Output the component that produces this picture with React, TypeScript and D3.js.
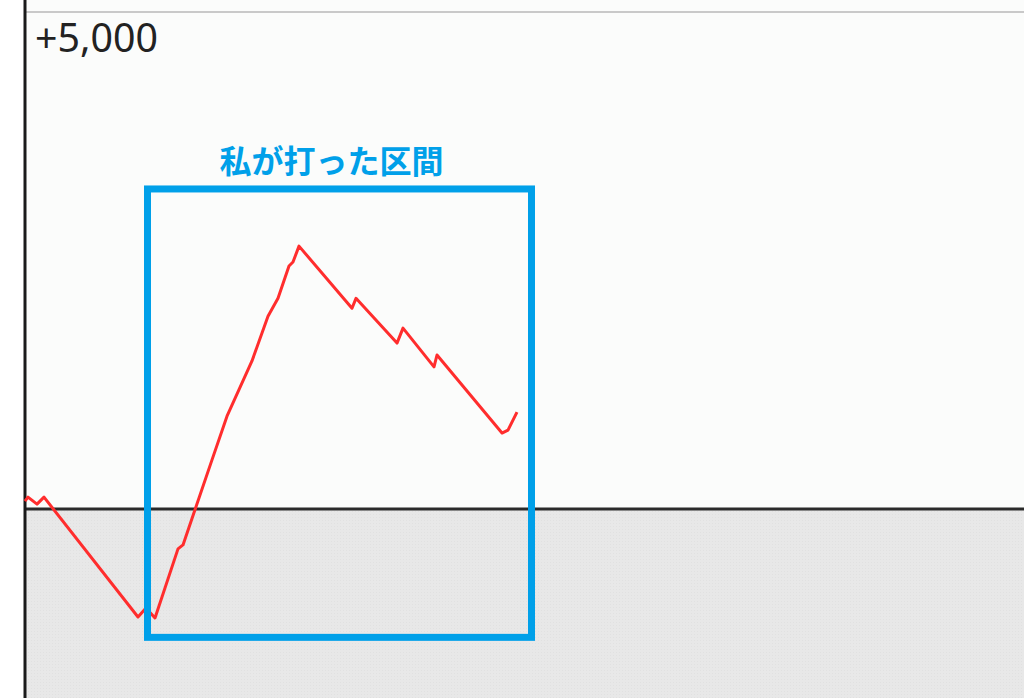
import React from 'react'
import * as d3 from 'd3'

// game count (x) and coin difference (y)
const games = [0, 12, 48, 76, 452, 484, 520, 612, 632, 748, 808, 908, 972, 1012, 1056, 1072, 1096, 1308, 1324, 1488, 1512, 1636, 1648, 1908, 1932, 1968]
const diffs = [80, 120, 50, 120, -1085, -995, -1095, -400, -360, 495, 935, 1490, 1940, 2120, 2445, 2485, 2645, 2020, 2120, 1670, 1820, 1430, 1550, 765, 795, 975]
const topTick = 5000
const topTickLabel = '+5,000'
const sectionLabel = '私が打った区間'
const sectionStart = 490
const sectionEnd = 2026
const sectionTop = 3220
const sectionBottom = -1290

const W = 1024
const H = 698

export default function App() {
  const x = d3.scaleLinear().domain([0, 4000]).range([25, 1025])
  const y = d3.scaleLinear().domain([topTick, -1900]).range([12, 698])

  const pts = games.map((g, i) => [x(g), y(diffs[i])] as [number, number])
  const line = d3.line().curve(d3.curveLinear)(pts) || ''

  const y0 = y(0)
  const bx0 = x(sectionStart)
  const bx1 = x(sectionEnd)
  const by0 = y(sectionTop)
  const by1 = y(sectionBottom)

  return (
    <svg
      width={W}
      height={H}
      style={{ position: 'fixed', left: 0, top: 0, background: '#ffffff' }}
    >
      <defs>
        <pattern id="dots" width="3" height="3" patternUnits="userSpaceOnUse">
          <rect width="3" height="3" fill="#e8e8e8" />
          <rect x="1" y="1" width="1" height="1" fill="#e1e1e1" />
        </pattern>
      </defs>
      {/* plot background */}
      <rect x={x(0)} y={0} width={W - x(0)} height={y0} fill="#fbfcfb" />
      <rect x={x(0)} y={y0} width={W - x(0)} height={H - y0} fill="url(#dots)" />

      {/* top grid line */}
      <line x1={x(0)} x2={W} y1={y(topTick)} y2={y(topTick)} stroke="#c9c9c9" strokeWidth={2} />

      {/* zero line */}
      <line x1={x(0)} x2={W} y1={y0} y2={y0} stroke="#2a2a2a" strokeWidth={3} />

      {/* left axis */}
      <line x1={x(0)} x2={x(0)} y1={0} y2={H} stroke="#1a1a1a" strokeWidth={3} />

      <text
        x={35}
        y={y(topTick) + 40}
        fontFamily="'Noto Sans', sans-serif"
        fontSize={40}
        fill="#222"
        textLength={123}
        lengthAdjust="spacingAndGlyphs"
      >
        {topTickLabel}
      </text>

      {/* data line */}
      <path d={line} fill="none" stroke="#ff2d2d" strokeWidth={3} strokeLinejoin="round" />

      {/* highlighted section */}
      <rect
        x={bx0}
        y={by0}
        width={bx1 - bx0}
        height={by1 - by0}
        fill="none"
        stroke="#00a0e9"
        strokeWidth={7}
      />
      <text
        x={(bx0 + bx1) / 2 - 8}
        y={by0 - 16}
        textAnchor="middle"
        fontFamily="'Noto Sans CJK JP', sans-serif"
        fontWeight={700}
        fontSize={32}
        fill="#00a0e9"
      >
        {sectionLabel}
      </text>
    </svg>
  )
}
